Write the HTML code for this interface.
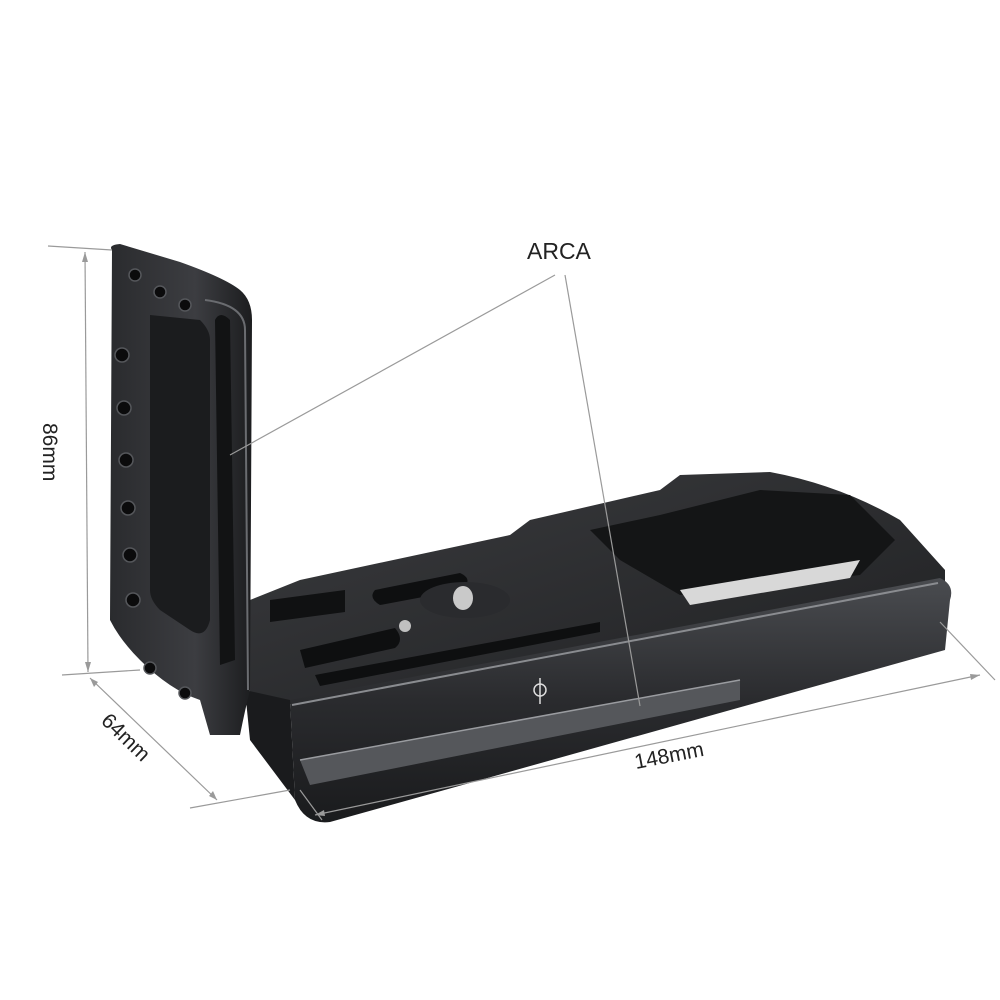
<!DOCTYPE html>
<html><head><style>
html,body{margin:0;padding:0;background:#fff;}
svg{display:block;}
text{font-family:"Liberation Sans",sans-serif;fill:#222;}
</style></head><body>
<svg width="1000" height="1000" viewBox="0 0 1000 1000">
<defs>
<linearGradient id="front" x1="0" y1="0" x2="0" y2="1">
<stop offset="0" stop-color="#4a4c50"/><stop offset="0.5" stop-color="#2a2b2e"/><stop offset="1" stop-color="#1a1b1d"/>
</linearGradient>
<linearGradient id="top" x1="0" y1="0" x2="1" y2="1">
<stop offset="0" stop-color="#3a3b3e"/><stop offset="1" stop-color="#1f2022"/>
</linearGradient>
<linearGradient id="vert" x1="0" y1="0" x2="1" y2="0">
<stop offset="0" stop-color="#2a2b2e"/><stop offset="0.6" stop-color="#3c3d41"/><stop offset="1" stop-color="#1c1d1f"/>
</linearGradient>
</defs>

<!-- base top surface -->
<path d="M250,600 L300,580 L510,535 L530,520 L660,490 L680,475 L770,472 Q840,485 900,520 L945,570 L945,590 L300,705 L250,700 Z" fill="url(#top)"/>
<!-- front face -->
<path d="M290,700 L940,578 Q955,585 950,600 L945,650 L330,822 Q305,825 295,800 Z" fill="url(#front)"/>
<!-- front highlight edge -->
<path d="M292,705 L938,583" stroke="#8a8c90" stroke-width="2"/>
<!-- groove on front -->
<path d="M300,760 L740,680 L740,700 L310,785 Z" fill="#55575b"/>
<path d="M300,760 L740,680" stroke="#9a9ca0" stroke-width="1.5"/>
<!-- base left bottom -->
<path d="M245,690 L290,700 L295,800 L250,740 Z" fill="#1a1b1d"/>

<!-- cutouts on top -->
<path d="M590,530 L660,515 L760,490 L850,495 L895,540 L860,575 L680,595 L620,560 Z" fill="#141516"/>
<path d="M680,590 L860,560 L850,578 L690,605 Z" fill="#d8d8d8"/>
<path d="M375,590 L460,573 Q475,580 460,590 L380,605 Q368,598 375,590 Z" fill="#0e0f10"/>
<path d="M300,650 L395,628 Q405,640 395,648 L305,668 Z" fill="#0e0f10"/>
<path d="M315,675 L600,622 L600,632 L320,686 Z" fill="#0e0f10"/>
<path d="M270,600 L345,590 L345,612 L270,622 Z" fill="#101112"/>
<!-- knob / screw -->
<ellipse cx="465" cy="600" rx="45" ry="18" fill="#2a2b2e"/>
<ellipse cx="463" cy="598" rx="10" ry="12" fill="#c9c9c9"/>
<circle cx="405" cy="626" r="6" fill="#c0c0c0"/>
<!-- symbol -->
<circle cx="540" cy="690" r="6" fill="none" stroke="#ddd" stroke-width="1.5"/>
<line x1="540" y1="678" x2="540" y2="704" stroke="#ddd" stroke-width="1.5"/>

<!-- vertical plate -->
<path d="M112,250 Q108,245 120,244 L180,262 Q225,278 240,290 Q252,300 252,320 L250,690 Q245,710 240,735 L210,735 L200,700 Q170,690 140,660 Q120,640 110,620 Z" fill="url(#vert)"/>
<path d="M215,320 Q220,310 230,320 L235,660 L220,665 Z" fill="#121314"/>
<path d="M150,315 L200,320 Q210,330 210,340 L210,620 Q205,640 190,630 L160,610 Q150,600 150,590 Z" fill="#1b1c1e"/>
<path d="M205,300 Q245,305 245,330 L248,690" fill="none" stroke="#6a6c70" stroke-width="2"/>
<!-- holes -->
<g fill="#0b0b0c" stroke="#55575b" stroke-width="1.5">
<circle cx="135" cy="275" r="6"/><circle cx="160" cy="292" r="6"/><circle cx="185" cy="305" r="6"/>
<circle cx="122" cy="355" r="7"/><circle cx="124" cy="408" r="7"/><circle cx="126" cy="460" r="7"/>
<circle cx="128" cy="508" r="7"/><circle cx="130" cy="555" r="7"/><circle cx="133" cy="600" r="7"/>
<circle cx="150" cy="668" r="6"/><circle cx="185" cy="693" r="6"/>
</g>

<!-- dimension lines -->
<g stroke="#9a9a9a" stroke-width="1.2" fill="none">
<line x1="48" y1="246" x2="112" y2="250"/>
<line x1="85" y1="252" x2="88" y2="672"/>
<line x1="62" y1="675" x2="140" y2="670"/>
<line x1="90" y1="678" x2="217" y2="800"/>
<line x1="190" y1="808" x2="290" y2="790"/>
<line x1="315" y1="815" x2="980" y2="675"/>
<line x1="940" y1="622" x2="995" y2="680"/>
<line x1="300" y1="790" x2="322" y2="820"/>
<line x1="555" y1="275" x2="230" y2="455"/>
<line x1="565" y1="275" x2="640" y2="706"/>
</g>
<g fill="#9a9a9a">
<path d="M85,252 l-3,10 l6,0 z"/><path d="M88,672 l-3,-10 l6,0 z"/>
<path d="M90,678 l4,9 l4,-5 z"/><path d="M217,800 l-4,-9 l-4,5 z"/>
<path d="M315,815 l9,-5 l1,6 z"/><path d="M980,675 l-9,5 l-1,-6 z"/>
</g>

<text x="527" y="259" font-size="23">ARCA</text>
<text x="636" y="769" font-size="21" transform="rotate(-11 636 769)">148mm</text>
<text x="100" y="722" font-size="21" transform="rotate(44 100 722)">64mm</text>
<text x="43" y="423" font-size="21" transform="rotate(90 43 423)">86mm</text>
</svg>
</body></html>
